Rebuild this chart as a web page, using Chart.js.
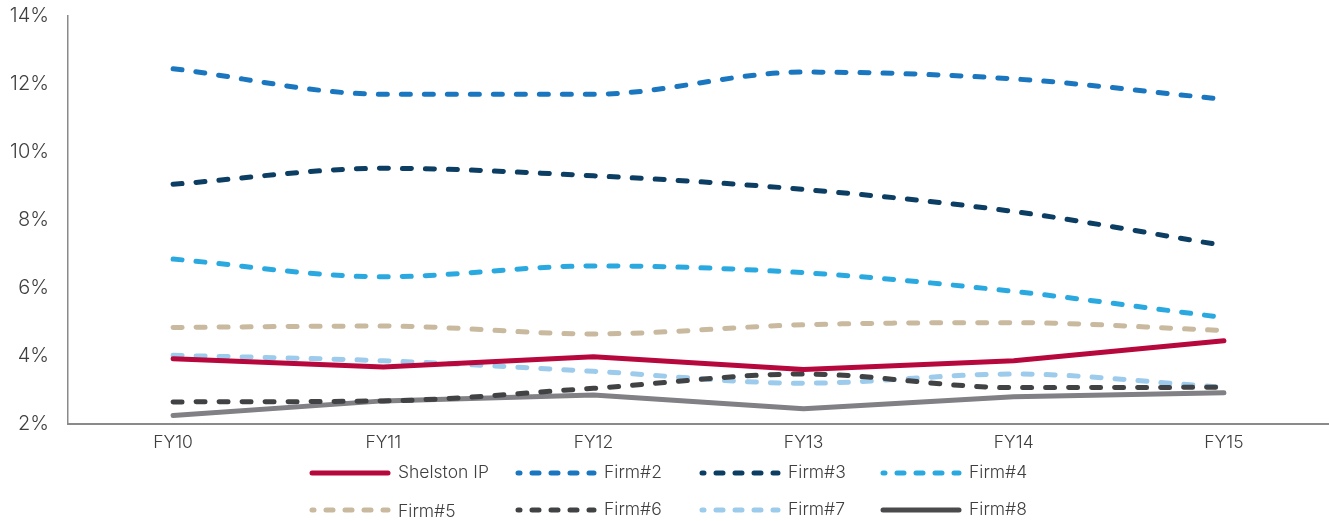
<!DOCTYPE html>
<html>
<head>
<meta charset="utf-8">
<script src="https://cdn.jsdelivr.net/npm/chart.js@4.4.1/dist/chart.umd.min.js"></script>
<style>
  html, body { margin: 0; padding: 0; background: #ffffff; }
  #wrap { width: 1329px; height: 521px; position: relative; }
</style>
</head>
<body>
<div id="wrap"><canvas id="chart"></canvas></div>
<script>
// Fiscal years on the category axis
const years = ['FY10', 'FY11', 'FY12', 'FY13', 'FY14', 'FY15'];

// Series values (percent)
const shelstonIP = [3.92, 3.68, 3.98, 3.60, 3.86, 4.45];
const firm2 = [12.45, 11.70, 11.70, 12.35, 12.15, 11.55];
const firm3 = [9.05, 9.52, 9.30, 8.90, 8.25, 7.25];
const firm4 = [6.85, 6.33, 6.65, 6.45, 5.90, 5.13];
const firm5 = [4.84, 4.88, 4.65, 4.92, 4.98, 4.75];
const firm6 = [2.65, 2.68, 3.05, 3.47, 3.07, 3.08];
const firm7 = [4.02, 3.86, 3.55, 3.20, 3.47, 3.08];
const firm8 = [2.25, 2.68, 2.85, 2.45, 2.80, 2.92];

// Y axis tick values (percent)
const yTicks = [2, 4, 6, 8, 10, 12, 14];

const FONT = "'Inter', 'Roboto', 'Liberation Sans', sans-serif";
const TEXT = '#3f3f3f';

function series(label, data, color, dashed, legendColor) {
  return {
    label,
    data,
    borderColor: color,
    backgroundColor: color,
    legendColor: legendColor || color,
    borderWidth: 5,
    borderDash: dashed ? [9, 14] : [],
    borderCapStyle: 'round',
    borderJoinStyle: 'round',
    tension: dashed ? 0.4 : 0,
    cubicInterpolationMode: dashed ? 'monotone' : 'default',
    pointRadius: 0,
    pointHoverRadius: 0,
    fill: false,
    dashed
  };
}

const datasets = [
  series('Shelston IP', shelstonIP, '#b7083d', false),
  series('Firm#2', firm2, '#1a76bf', true),
  series('Firm#3', firm3, '#0c3e63', true),
  series('Firm#4', firm4, '#2aa9e0', true),
  series('Firm#5', firm5, '#c9b99f', true),
  series('Firm#6', firm6, '#414243', true),
  series('Firm#7', firm7, '#9ccbec', true),
  series('Firm#8', firm8, '#808085', false, '#4a4a4c')
];

// Legend laid out in two rows of four fixed columns under the plot
const legendGrid = {
  columns: [309, 515, 699, 880],
  rows: [473, 510],
  sample: 82,
  gap: 7
};

const fixedLegend = {
  id: 'fixedLegend',
  afterDraw(chart) {
    const ctx = chart.ctx;
    ctx.save();
    chart.data.datasets.forEach((ds, i) => {
      const x = legendGrid.columns[i % 4];
      const y = legendGrid.rows[Math.floor(i / 4)];
      ctx.beginPath();
      ctx.strokeStyle = ds.legendColor;
      ctx.lineWidth = 5;
      ctx.lineCap = 'round';
      ctx.setLineDash(ds.dashed ? [7, 12] : []);
      ctx.lineDashOffset = ds.dashed ? 5 : 0;
      ctx.moveTo(x + 3, y);
      ctx.lineTo(x + legendGrid.sample - 3, y);
      ctx.stroke();
      ctx.setLineDash([]);
      ctx.fillStyle = TEXT;
      ctx.font = '300 17.5px ' + FONT;
      ctx.textAlign = 'left';
      ctx.textBaseline = 'middle';
      ctx.fillText(ds.label, x + legendGrid.sample + legendGrid.gap, y + (i === 4 ? 2 : 0));
    });
    ctx.restore();
  }
};

new Chart(document.getElementById('chart'), {
  type: 'line',
  data: { labels: years, datasets },
  plugins: [fixedLegend],
  options: {
    responsive: true,
    maintainAspectRatio: false,
    animation: false,
    devicePixelRatio: 1,
    layout: { padding: { top: 16, right: 0, bottom: 0, left: 0 } },
    plugins: {
      legend: { display: false },
      tooltip: { enabled: false }
    },
    scales: {
      x: {
        offset: true,
        grid: { display: false, drawTicks: false },
        border: { display: true, color: '#8a8a8a', width: 2 },
        ticks: {
          color: TEXT,
          font: { family: FONT, size: 17.5, weight: '300' },
          padding: 8,
          maxRotation: 0
        },
        afterFit(scale) { scale.height = 97; scale.paddingLeft = 0; scale.paddingRight = 0; }
      },
      y: {
        min: yTicks[0],
        max: yTicks[yTicks.length - 1],
        afterBuildTicks(scale) { scale.ticks = yTicks.map(v => ({ value: v })); },
        grid: { display: false, drawTicks: false },
        border: { display: true, color: '#8a8a8a', width: 1.5 },
        ticks: {
          color: TEXT,
          font: { family: FONT, size: 20, weight: '300' },
          padding: 19,
          callback: v => v + '%'
        },
        afterFit(scale) { scale.width = 68; scale.paddingTop = 0; scale.paddingBottom = 0; }
      }
    }
  }
});
</script>
</body>
</html>
